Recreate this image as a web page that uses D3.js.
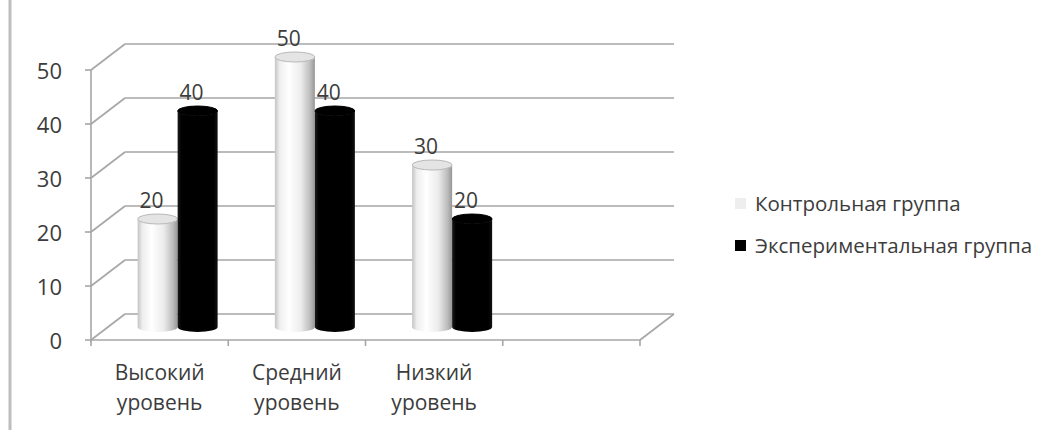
<!DOCTYPE html>
<html>
<head>
<meta charset="utf-8">
<script src="https://cdn.jsdelivr.net/npm/d3@7"></script>
<style>
  html, body { margin: 0; padding: 0; background: #fff; }
  svg { display: block; }
  text { font-family: "Open Sans", "Noto Sans", sans-serif; fill: #3c3c3c; }
</style>
</head>
<body>
<svg id="chart" width="1050" height="430"></svg>
<script>
// Categories (the fourth slot is an empty category on the axis)
const categories = [["Высокий", "уровень"], ["Средний", "уровень"], ["Низкий", "уровень"], [""]];
const seriesNames = ["Контрольная группа", "Экспериментальная группа"];
const controlValues = [20, 50, 30];
const experimentalValues = [40, 40, 20];
const yTicks = [0, 10, 20, 30, 40, 50];

const svg = d3.select("#chart");

// Frame of the 3D plot: front plane and depth offset of the back wall
const front = { left: 91, right: 640, bottom: 340, top: 70 };
const depth = { dx: 34, dy: -26 };
const barW = 40, ry = 5;
const gridColor = "#a6a6a6";

const x = d3.scaleBand()
  .domain(d3.range(categories.length))
  .range([front.left, front.right])
  .padding(0);
const y = d3.scaleLinear().domain([0, 50]).range([front.bottom, front.top]);

// outer border line on the left
svg.append("line")
  .attr("x1", 10).attr("x2", 10).attr("y1", 0).attr("y2", 430)
  .attr("stroke", "#bdbdbd").attr("stroke-width", 3);

const grid = svg.append("g").attr("stroke", gridColor).attr("stroke-width", 1.6).attr("fill", "none");

// back wall horizontal gridlines + side wall diagonals
yTicks.forEach(v => {
  const yf = y(v);
  grid.append("line")
    .attr("x1", front.left + depth.dx).attr("x2", front.right + depth.dx)
    .attr("y1", yf + depth.dy).attr("y2", yf + depth.dy);
  grid.append("line")
    .attr("x1", front.left).attr("x2", front.left + depth.dx)
    .attr("y1", yf).attr("y2", yf + depth.dy);
});

// floor: front edge and right-side edge
grid.append("line")
  .attr("x1", front.left).attr("x2", front.right)
  .attr("y1", y(0)).attr("y2", y(0));
grid.append("line")
  .attr("x1", front.right).attr("x2", front.right + depth.dx)
  .attr("y1", y(0)).attr("y2", y(0) + depth.dy);

// value axis
grid.append("line")
  .attr("x1", front.left).attr("x2", front.left)
  .attr("y1", y(50)).attr("y2", y(0) + 2);
yTicks.forEach(v => {
  grid.append("line")
    .attr("x1", front.left - 6).attr("x2", front.left)
    .attr("y1", y(v)).attr("y2", y(v));
});
svg.append("g").selectAll("text").data(yTicks).join("text")
  .attr("x", 62).attr("y", d => y(d))
  .attr("text-anchor", "end").attr("dominant-baseline", "central")
  .style("font-size", "22px")
  .text(d => d);

// category ticks
const catEdges = d3.range(categories.length + 1).map(i => front.left + i * x.bandwidth());
catEdges.forEach(cx => {
  grid.append("line")
    .attr("x1", cx).attr("x2", cx)
    .attr("y1", y(0)).attr("y2", y(0) + 6);
});

// category labels
const catG = svg.append("g");
categories.forEach((lines, i) => {
  const t = catG.append("text")
    .attr("x", x(i) + x.bandwidth() / 2)
    .attr("text-anchor", "middle")
    .style("font-size", "21px");
  lines.forEach((ln, j) => {
    t.append("tspan")
      .attr("x", x(i) + x.bandwidth() / 2)
      .attr("y", 380 + j * 30)
      .text(ln);
  });
});

// gradients for cylinders
const defs = svg.append("defs");
const gLight = defs.append("linearGradient").attr("id", "cylLight").attr("x1", "0").attr("x2", "1").attr("y1", "0").attr("y2", "0");
[[0, "#c4c4c4"], [0.12, "#eeeeee"], [0.35, "#ffffff"], [0.65, "#ececec"], [0.88, "#bdbdbd"], [1, "#969696"]]
  .forEach(([o, c]) => gLight.append("stop").attr("offset", o).attr("stop-color", c));
const gDark = defs.append("linearGradient").attr("id", "cylDark").attr("x1", "0").attr("x2", "1").attr("y1", "0").attr("y2", "0");
[[0, "#1a1a1a"], [0.1, "#000000"], [0.9, "#000000"], [1, "#111111"]]
  .forEach(([o, c]) => gDark.append("stop").attr("offset", o).attr("stop-color", c));

const series = [
  { name: seriesNames[0], values: controlValues, body: "url(#cylLight)", top: "#e4e4e4", topStroke: "#b8b8b8", offset: -1 },
  { name: seriesNames[1], values: experimentalValues, body: "url(#cylDark)", top: "#000000", topStroke: "#000000", offset: 0 }
];

const mid = { dx: depth.dx / 2 + 1, dy: depth.dy / 2 };
const bars = svg.append("g");
const labels = svg.append("g");

series.forEach(s => {
  s.values.forEach((v, i) => {
    const cx = x(i) + x.bandwidth() / 2 + mid.dx;
    const x0 = cx + s.offset * barW;
    const yTop = y(v) + mid.dy;
    const yBot = y(0) + mid.dy;
    const rx = barW / 2;
    const body = `M${x0},${yTop} L${x0},${yBot} A${rx},${ry} 0 0 0 ${x0 + barW},${yBot} L${x0 + barW},${yTop} A${rx},${ry} 0 0 1 ${x0},${yTop} Z`;
    bars.append("path").attr("d", body).attr("fill", s.body);
    bars.append("ellipse")
      .attr("cx", x0 + rx).attr("cy", yTop).attr("rx", rx).attr("ry", ry)
      .attr("fill", s.top).attr("stroke", s.topStroke).attr("stroke-width", 1);
    labels.append("text")
      .attr("x", x0 + rx - 6).attr("y", yTop - 19)
      .attr("text-anchor", "middle").attr("dominant-baseline", "central")
      .style("font-size", "21px")
      .text(v);
  });
});

// legend
const legend = svg.append("g");
const legendColors = ["#eeeeee", "#000000"];
const legendY = [203, 245];
seriesNames.forEach((name, i) => {
  legend.append("rect")
    .attr("x", 735).attr("y", legendY[i] - 5).attr("width", 11).attr("height", 11)
    .attr("fill", legendColors[i]);
  legend.append("text")
    .attr("x", 755).attr("y", legendY[i])
    .attr("dominant-baseline", "central")
    .style("font-size", "20.5px")
    .text(name);
});
</script>
</body>
</html>
